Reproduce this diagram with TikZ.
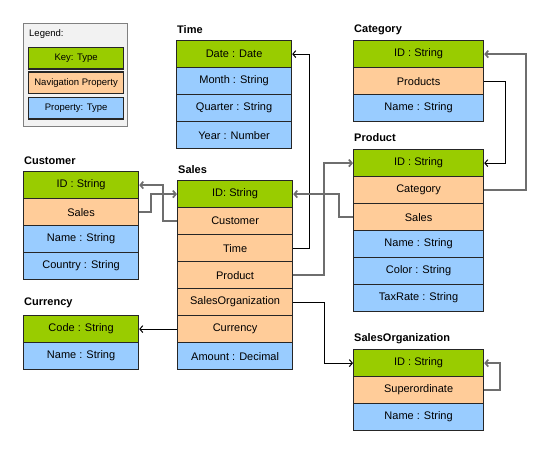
\documentclass[tikz,border=0pt]{standalone}
\usepackage{fontspec}
\setmainfont{Liberation Sans}
\usetikzlibrary{arrows.meta}
\definecolor{keygreen}{HTML}{99CC00}
\definecolor{navorange}{HTML}{FFCC99}
\definecolor{propblue}{HTML}{99CCFF}
\definecolor{legendgray}{HTML}{F2F2F2}
\definecolor{linkgray}{HTML}{6E6E6E}
\begin{document}
\begin{tikzpicture}[x=1pt,y=-1pt,
    row/.style={draw=black!85,line width=1.2pt,anchor=north west,minimum height=27pt,inner sep=0pt,font=\fontsize{11}{13}\selectfont},
    narrow/.style={minimum width=115pt},
    wide/.style={minimum width=130pt},
    keyrow/.style={row,fill=keygreen},
    navrow/.style={row,fill=navorange},
    proprow/.style={row,fill=propblue},
    legendrow/.style={row,minimum width=95pt,minimum height=21.5pt,font=\fontsize{9.5}{11}\selectfont},
    title/.style={anchor=west,inner sep=0pt,font=\bfseries\fontsize{11}{13}\selectfont},
    link/.style={line width=1pt,-{Straight Barb[length=3pt,width=7pt]}},
    graylink/.style={link,linkgray,line width=1.7pt},
  ]
  \useasboundingbox (0,0) rectangle (547,452);
  % legend
  \node[draw=gray,fill=legendgray,line width=1pt,anchor=north west,minimum width=104pt,minimum height=103pt] (legend) at (23,23) {};
  \node[anchor=west,inner sep=0pt,font=\fontsize{9.5}{11}\selectfont] (legend-title) at (29,34) {Legend:};
  \node[legendrow,fill=keygreen] (legend-key) at (28,47) {Key: Type};
  \node[legendrow,fill=navorange] (legend-nav) at (28,71.5) {Navigation Property};
  \node[legendrow,fill=propblue] (legend-prop) at (28,97) {Property: Type};
  % Time
  \node[title] (time) at (177,30) {Time};
  \node[keyrow,narrow] (time-date) at (176,40) {Date : Date};
  \node[proprow,narrow] (time-month) at (176,67) {Month : String};
  \node[proprow,narrow] (time-quarter) at (176,94) {Quarter : String};
  \node[proprow,narrow] (time-year) at (176,121) {Year : Number};
  % Category
  \node[title] (cat) at (354,30) {Category};
  \node[keyrow,wide] (cat-id) at (353,40) {ID : String};
  \node[navrow,wide] (cat-products) at (353,67) {Products};
  \node[proprow,wide] (cat-name) at (353,94) {Name : String};
  % Product
  \node[title] (prod) at (354,138) {Product};
  \node[keyrow,wide] (prod-id) at (353,149) {ID : String};
  \node[navrow,wide] (prod-category) at (353,176) {Category};
  \node[navrow,wide] (prod-sales) at (353,203) {Sales};
  \node[proprow,wide] (prod-name) at (353,230) {Name : String};
  \node[proprow,wide] (prod-color) at (353,257) {Color : String};
  \node[proprow,wide] (prod-taxrate) at (353,284) {TaxRate : String};
  % Customer
  \node[title] (cust) at (24,161) {Customer};
  \node[keyrow,narrow] (cust-id) at (23,171) {ID : String};
  \node[navrow,narrow] (cust-sales) at (23,198) {Sales};
  \node[proprow,narrow] (cust-name) at (23,225) {Name : String};
  \node[proprow,narrow] (cust-country) at (23,252) {Country : String};
  % Sales
  \node[title] (sales) at (178,170) {Sales};
  \node[keyrow,narrow] (sales-id) at (177,180) {ID: String};
  \node[navrow,narrow] (sales-customer) at (177,207) {Customer};
  \node[navrow,narrow] (sales-time) at (177,234) {Time};
  \node[navrow,narrow] (sales-product) at (177,261) {Product};
  \node[navrow,narrow] (sales-salesorg) at (177,288) {SalesOrganization};
  \node[navrow,narrow] (sales-currency) at (177,315) {Currency};
  \node[proprow,narrow] (sales-amount) at (177,342) {Amount : Decimal};
  % Currency
  \node[title] (cur) at (24,303) {Currency};
  \node[keyrow,narrow] (cur-code) at (23,315) {Code : String};
  \node[proprow,narrow] (cur-name) at (23,342) {Name : String};
  % SalesOrganization
  \node[title] (so) at (354,339) {SalesOrganization};
  \node[keyrow,wide] (so-id) at (353,349) {ID : String};
  \node[navrow,wide] (so-super) at (353,376) {Superordinate};
  \node[proprow,wide] (so-name) at (353,403) {Name : String};
  % navigation links
  \draw[graylink] (cust-sales.east) -- ++(12,0) |- (sales-id.west);
  \draw[graylink] (sales-customer.west) -- ++(-14,0) |- (cust-id.east);
  \draw[link] (sales-time.east) -- ++(16,0) |- (time-date.east);
  \draw[graylink] (sales-product.east) -- ++(31,0) |- (prod-id.west);
  \draw[graylink] (prod-sales.west) -- ++(-14,0) |- (sales-id.east);
  \draw[link] (cat-products.east) -- ++(21,0) |- (prod-id.east);
  \draw[graylink] (prod-category.east) -- ++(42,0) |- (cat-id.east);
  \draw[link] (sales-salesorg.east) -- ++(31,0) |- (so-id.west);
  \draw[link] (sales-currency.west) -- (cur-code.east);
  \draw[graylink] (so-super.east) -- ++(16,0) |- (so-id.east);
\end{tikzpicture}
\end{document}
